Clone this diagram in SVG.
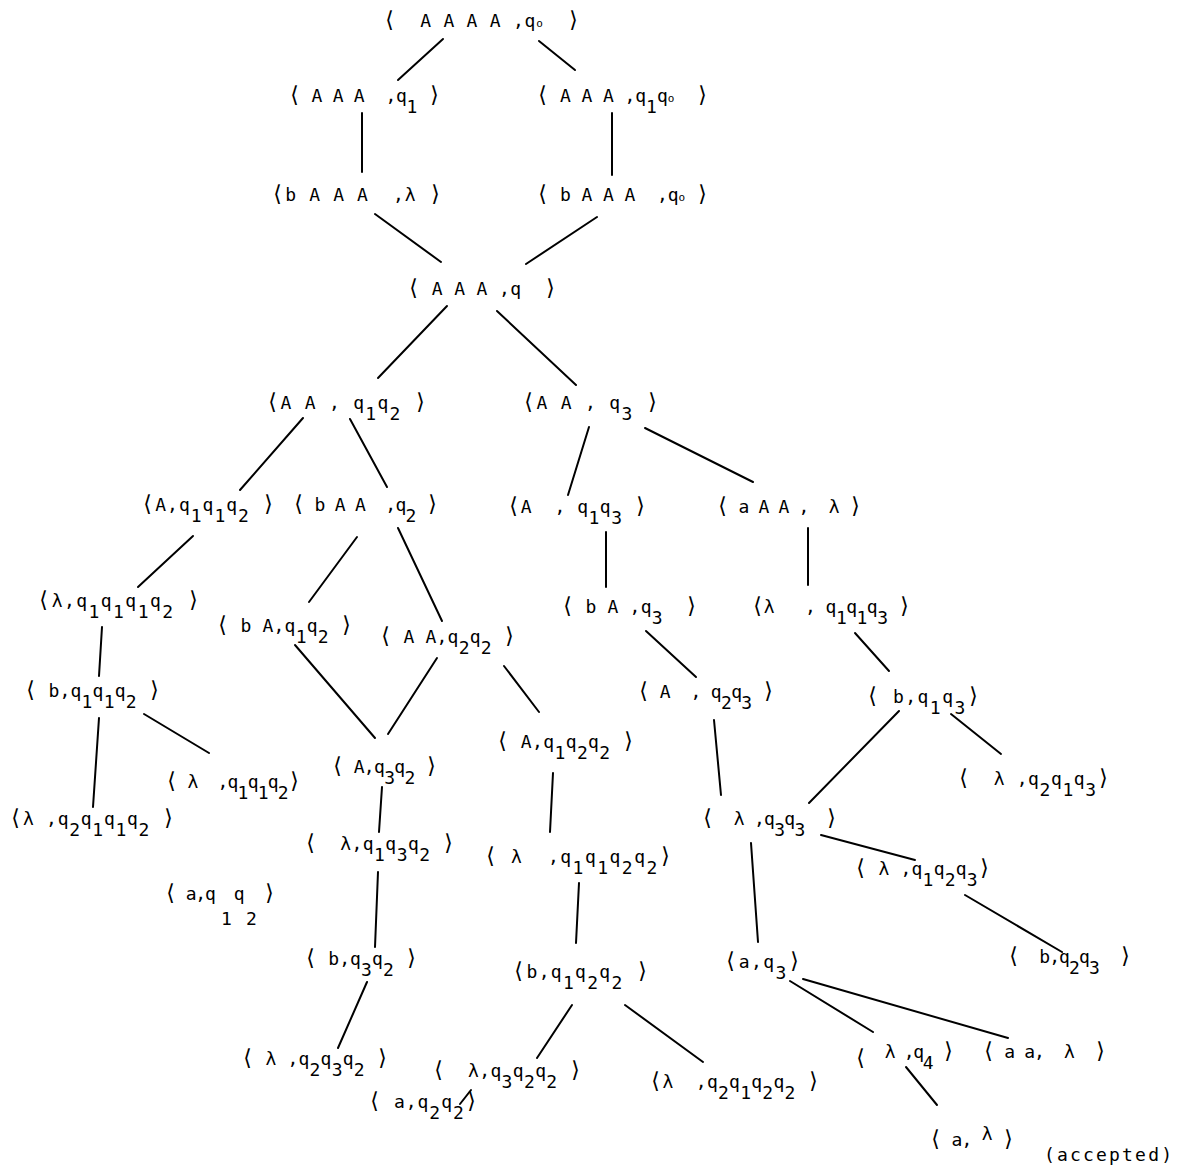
<svg xmlns="http://www.w3.org/2000/svg" width="1187" height="1169" viewBox="0 0 1187 1169">
<style>
.t{font-family:"DejaVu Sans Mono","Liberation Mono",monospace;font-size:18px;fill:#000;white-space:pre}
.b{font-size:22px}
.s{baseline-shift:-11px}
.o{font-size:11px}
.dn{baseline-shift:-7px}
.up{baseline-shift:6px}
#connectors line{stroke:#000;stroke-width:2;stroke-linecap:round}
</style>
<rect width="1187" height="1169" fill="#fff"/>
<g id="connectors">
<line x1="443" y1="39" x2="398" y2="80"/>
<line x1="539" y1="41" x2="575" y2="70"/>
<line x1="362" y1="113" x2="362" y2="172"/>
<line x1="612" y1="113" x2="612" y2="175"/>
<line x1="375" y1="214" x2="441" y2="262"/>
<line x1="597" y1="217" x2="526" y2="264"/>
<line x1="447" y1="306" x2="378" y2="378"/>
<line x1="497" y1="311" x2="576" y2="385"/>
<line x1="303" y1="418" x2="240" y2="490"/>
<line x1="350" y1="419" x2="387" y2="487"/>
<line x1="193" y1="536" x2="138" y2="587"/>
<line x1="357" y1="537" x2="309" y2="602"/>
<line x1="398" y1="528" x2="442" y2="621"/>
<line x1="589" y1="427" x2="568" y2="495"/>
<line x1="645" y1="428" x2="753" y2="482"/>
<line x1="606" y1="532" x2="606" y2="587"/>
<line x1="808" y1="528" x2="808" y2="585"/>
<line x1="102" y1="627" x2="99" y2="676"/>
<line x1="295" y1="645" x2="375" y2="738"/>
<line x1="437" y1="658" x2="388" y2="734"/>
<line x1="99" y1="718" x2="93" y2="807"/>
<line x1="144" y1="714" x2="209" y2="753"/>
<line x1="382" y1="787" x2="379" y2="832"/>
<line x1="504" y1="666" x2="539" y2="712"/>
<line x1="646" y1="631" x2="696" y2="677"/>
<line x1="714" y1="720" x2="721" y2="795"/>
<line x1="553" y1="773" x2="550" y2="832"/>
<line x1="855" y1="633" x2="889" y2="671"/>
<line x1="899" y1="711" x2="809" y2="803"/>
<line x1="951" y1="714" x2="1001" y2="754"/>
<line x1="821" y1="835" x2="915" y2="860"/>
<line x1="751" y1="843" x2="758" y2="942"/>
<line x1="965" y1="895" x2="1062" y2="952"/>
<line x1="378" y1="872" x2="375" y2="947"/>
<line x1="579" y1="883" x2="576" y2="943"/>
<line x1="367" y1="982" x2="338" y2="1048"/>
<line x1="572" y1="1005" x2="537" y2="1058"/>
<line x1="625" y1="1005" x2="703" y2="1062"/>
<line x1="471" y1="1090" x2="460" y2="1104"/>
<line x1="790" y1="981" x2="873" y2="1032"/>
<line x1="803" y1="979" x2="1008" y2="1038"/>
<line x1="906" y1="1067" x2="937" y2="1105"/>
</g>
<g id="n1"><text class="t" x="383" y="27" textLength="197" lengthAdjust="spacing"><tspan class="b">⟨</tspan>  A A A A ,q<tspan class="o">o</tspan>  <tspan class="b">⟩</tspan></text></g>
<g id="n2"><text class="t" x="288" y="102" textLength="153" lengthAdjust="spacing"><tspan class="b">⟨</tspan> A A A  ,q<tspan class="s">1</tspan> <tspan class="b">⟩</tspan></text></g>
<g id="n3"><text class="t" x="536" y="102" textLength="173" lengthAdjust="spacing"><tspan class="b">⟨</tspan> A A A ,q<tspan class="s">1</tspan>q<tspan class="o">o</tspan>  <tspan class="b">⟩</tspan></text></g>
<g id="n4"><text class="t" x="271" y="201" textLength="171" lengthAdjust="spacing"><tspan class="b">⟨</tspan>b A A A  ,λ <tspan class="b">⟩</tspan></text></g>
<g id="n5"><text class="t" x="536" y="201" textLength="173" lengthAdjust="spacing"><tspan class="b">⟨</tspan> b A A A  ,q<tspan class="o">o</tspan> <tspan class="b">⟩</tspan></text></g>
<g id="n6"><text class="t" x="407" y="295" textLength="150" lengthAdjust="spacing"><tspan class="b">⟨</tspan> A A A ,q  <tspan class="b">⟩</tspan></text></g>
<g id="n7"><text class="t" x="266" y="409" textLength="161" lengthAdjust="spacing"><tspan class="b">⟨</tspan>A A , q<tspan class="s">1</tspan>q<tspan class="s">2</tspan> <tspan class="b">⟩</tspan></text></g>
<g id="n8"><text class="t" x="522" y="409" textLength="137" lengthAdjust="spacing"><tspan class="b">⟨</tspan>A A , q<tspan class="s">3</tspan> <tspan class="b">⟩</tspan></text></g>
<g id="n9"><text class="t" x="141" y="511" textLength="134" lengthAdjust="spacing"><tspan class="b">⟨</tspan>A,q<tspan class="s">1</tspan>q<tspan class="s">1</tspan>q<tspan class="s">2</tspan> <tspan class="b">⟩</tspan></text></g>
<g id="n10"><text class="t" x="292" y="511" textLength="147" lengthAdjust="spacing"><tspan class="b">⟨</tspan> b A A  ,q<tspan class="s">2</tspan> <tspan class="b">⟩</tspan></text></g>
<g id="n11"><text class="t" x="507" y="513" textLength="140" lengthAdjust="spacing"><tspan class="b">⟨</tspan>A  , q<tspan class="s">1</tspan>q<tspan class="s">3</tspan> <tspan class="b">⟩</tspan></text></g>
<g id="n12"><text class="t" x="716" y="513" textLength="146" lengthAdjust="spacing"><tspan class="b">⟨</tspan> a A A ,  λ <tspan class="b">⟩</tspan></text></g>
<g id="n13"><text class="t" x="37" y="607" textLength="163" lengthAdjust="spacing"><tspan class="b">⟨</tspan>λ,q<tspan class="s">1</tspan>q<tspan class="s">1</tspan>q<tspan class="s">1</tspan>q<tspan class="s">2</tspan> <tspan class="b">⟩</tspan></text></g>
<g id="n14"><text class="t" x="216" y="632" textLength="137" lengthAdjust="spacing"><tspan class="b">⟨</tspan> b A,q<tspan class="s">1</tspan>q<tspan class="s">2</tspan> <tspan class="b">⟩</tspan></text></g>
<g id="n15"><text class="t" x="379" y="643" textLength="137" lengthAdjust="spacing"><tspan class="b">⟨</tspan> A A,q<tspan class="s">2</tspan>q<tspan class="s">2</tspan> <tspan class="b">⟩</tspan></text></g>
<g id="n16"><text class="t" x="561" y="613" textLength="137" lengthAdjust="spacing"><tspan class="b">⟨</tspan> b A ,q<tspan class="s">3</tspan>  <tspan class="b">⟩</tspan></text></g>
<g id="n17"><text class="t" x="751" y="613" textLength="160" lengthAdjust="spacing"><tspan class="b">⟨</tspan>λ   , q<tspan class="s">1</tspan>q<tspan class="s">1</tspan>q<tspan class="s">3</tspan> <tspan class="b">⟩</tspan></text></g>
<g id="n18"><text class="t" x="24" y="697" textLength="137" lengthAdjust="spacing"><tspan class="b">⟨</tspan> b,q<tspan class="s">1</tspan>q<tspan class="s">1</tspan>q<tspan class="s">2</tspan> <tspan class="b">⟩</tspan></text></g>
<g id="n19"><text class="t" x="637" y="698" textLength="138" lengthAdjust="spacing"><tspan class="b">⟨</tspan> A  , q<tspan class="s">2</tspan>q<tspan class="s">3</tspan> <tspan class="b">⟩</tspan></text></g>
<g id="n20"><text class="t" x="866" y="703" textLength="114" lengthAdjust="spacing"><tspan class="b">⟨</tspan> b,q<tspan class="s">1</tspan>q<tspan class="s">3</tspan><tspan class="b">⟩</tspan></text></g>
<g id="n21"><text class="t" x="496" y="748" textLength="139" lengthAdjust="spacing"><tspan class="b">⟨</tspan> A,q<tspan class="s">1</tspan>q<tspan class="s">2</tspan>q<tspan class="s">2</tspan> <tspan class="b">⟩</tspan></text></g>
<g id="n22"><text class="t" x="165" y="788" textLength="136" lengthAdjust="spacing"><tspan class="b">⟨</tspan> λ  ,q<tspan class="s">1</tspan>q<tspan class="s">1</tspan>q<tspan class="s">2</tspan><tspan class="b">⟩</tspan></text></g>
<g id="n23"><text class="t" x="331" y="773" textLength="107" lengthAdjust="spacing"><tspan class="b">⟨</tspan> A,q<tspan class="s">3</tspan>q<tspan class="s">2</tspan> <tspan class="b">⟩</tspan></text></g>
<g id="n24"><text class="t" x="957" y="785" textLength="153" lengthAdjust="spacing"><tspan class="b">⟨</tspan>  λ ,q<tspan class="s">2</tspan>q<tspan class="s">1</tspan>q<tspan class="s">3</tspan><tspan class="b">⟩</tspan></text></g>
<g id="n25"><text class="t" x="9" y="825" textLength="166" lengthAdjust="spacing"><tspan class="b">⟨</tspan>λ ,q<tspan class="s">2</tspan>q<tspan class="s">1</tspan>q<tspan class="s">1</tspan>q<tspan class="s">2</tspan> <tspan class="b">⟩</tspan></text></g>
<g id="n26"><text class="t" x="701" y="825" textLength="137" lengthAdjust="spacing"><tspan class="b">⟨</tspan>  λ ,q<tspan class="s">3</tspan>q<tspan class="s">3</tspan>  <tspan class="b">⟩</tspan></text></g>
<g id="n27"><text class="t" x="304" y="850" textLength="151" lengthAdjust="spacing"><tspan class="b">⟨</tspan>  λ,q<tspan class="s">1</tspan>q<tspan class="s">3</tspan>q<tspan class="s">2</tspan> <tspan class="b">⟩</tspan></text></g>
<g id="n28"><text class="t" x="484" y="863" textLength="188" lengthAdjust="spacing"><tspan class="b">⟨</tspan> λ  ,q<tspan class="s">1</tspan>q<tspan class="s">1</tspan>q<tspan class="s">2</tspan>q<tspan class="s">2</tspan><tspan class="b">⟩</tspan></text></g>
<g id="n29"><text class="t" x="854" y="875" textLength="137" lengthAdjust="spacing"><tspan class="b">⟨</tspan> λ ,q<tspan class="s">1</tspan>q<tspan class="s">2</tspan>q<tspan class="s">3</tspan><tspan class="b">⟩</tspan></text></g>
<g id="n30"><text class="t" x="164" y="900" textLength="112" lengthAdjust="spacing"><tspan class="b">⟨</tspan> a,q  q  <tspan class="b">⟩</tspan></text><text class="t" y="925"><tspan x="221">1</tspan> <tspan x="246">2</tspan></text></g>
<g id="n31"><text class="t" x="304" y="965" textLength="114" lengthAdjust="spacing"><tspan class="b">⟨</tspan> b,q<tspan class="s">3</tspan>q<tspan class="s">2</tspan> <tspan class="b">⟩</tspan></text></g>
<g id="n32"><text class="t" x="512" y="978" textLength="137" lengthAdjust="spacing"><tspan class="b">⟨</tspan>b,q<tspan class="s">1</tspan>q<tspan class="s">2</tspan>q<tspan class="s">2</tspan> <tspan class="b">⟩</tspan></text></g>
<g id="n33"><text class="t" x="724" y="968" textLength="77" lengthAdjust="spacing"><tspan class="b">⟨</tspan>a,q<tspan class="s">3</tspan><tspan class="b">⟩</tspan></text></g>
<g id="n34"><text class="t" x="1007" y="963" textLength="125" lengthAdjust="spacing"><tspan class="b">⟨</tspan>  b,q<tspan class="s">2</tspan>q<tspan class="s">3</tspan>  <tspan class="b">⟩</tspan></text></g>
<g id="n35"><text class="t" x="241" y="1065" textLength="148" lengthAdjust="spacing"><tspan class="b">⟨</tspan> λ ,q<tspan class="s">2</tspan>q<tspan class="s">3</tspan>q<tspan class="s">2</tspan> <tspan class="b">⟩</tspan></text></g>
<g id="n36"><text class="t" x="432" y="1077" textLength="150" lengthAdjust="spacing"><tspan class="b">⟨</tspan>  λ,q<tspan class="s">3</tspan>q<tspan class="s">2</tspan>q<tspan class="s">2</tspan> <tspan class="b">⟩</tspan></text></g>
<g id="n37"><text class="t" x="649" y="1088" textLength="171" lengthAdjust="spacing"><tspan class="b">⟨</tspan>λ  ,q<tspan class="s">2</tspan>q<tspan class="s">1</tspan>q<tspan class="s">2</tspan>q<tspan class="s">2</tspan> <tspan class="b">⟩</tspan></text></g>
<g id="n38"><text class="t" x="368" y="1108" textLength="110" lengthAdjust="spacing"><tspan class="b">⟨</tspan> a,q<tspan class="s">2</tspan>q<tspan class="s">2</tspan><tspan class="b">⟩</tspan></text></g>
<g id="n39"><text class="t" x="854" y="1058" textLength="101" lengthAdjust="spacing"><tspan class="b dn">⟨</tspan>  λ ,q<tspan class="s">4</tspan> <tspan class="b">⟩</tspan></text></g>
<g id="n40"><text class="t" x="982" y="1058" textLength="125" lengthAdjust="spacing"><tspan class="b">⟨</tspan> a a,  λ  <tspan class="b">⟩</tspan></text></g>
<g id="n41"><text class="t" x="929" y="1146" textLength="86" lengthAdjust="spacing"><tspan class="b">⟨</tspan> a, <tspan class="up">λ</tspan> <tspan class="b">⟩</tspan></text></g>
<g id="n42"><text class="t" x="1044" y="1161" textLength="128" lengthAdjust="spacing">(accepted)</text></g>
</svg>
